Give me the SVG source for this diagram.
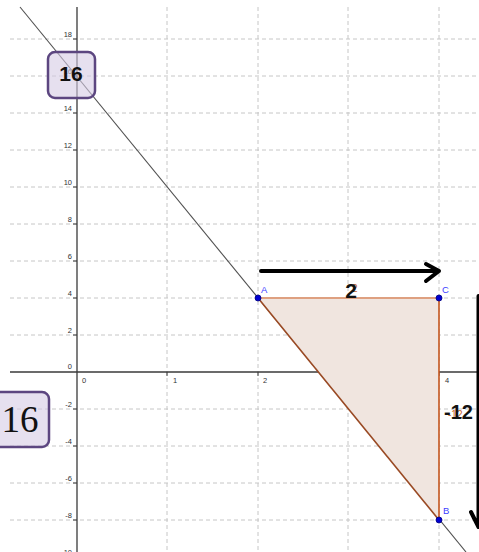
<svg xmlns="http://www.w3.org/2000/svg" width="479" height="552" viewBox="0 0 479 552">
<style>
.grid{stroke:#c6c6c6;stroke-width:1;stroke-dasharray:4 3;fill:none}
.axis{stroke:#3a3a3a;stroke-width:1.3;fill:none}
.tick{stroke:#3a3a3a;stroke-width:1}
.tl{font-family:"Liberation Sans",Arial,sans-serif;font-size:7.5px;fill:#333}
.ptl{font-family:"Liberation Sans",Arial,sans-serif;font-size:9.5px;fill:#3c3cff}
.seg{font-family:"Liberation Sans",Arial,sans-serif;font-size:10px;fill:#c8602a}
.big{font-family:"Liberation Sans",Arial,sans-serif;font-weight:bold;fill:#111}
.pt{fill:#0000d0;stroke:#000080;stroke-width:0.8}
.arrow{stroke:#000;stroke-width:4;fill:none;stroke-linecap:round;stroke-linejoin:round}
.box{fill:#d6cce4;fill-opacity:0.6;stroke:#5c4680;stroke-width:2.5}
</style>
<rect width="479" height="552" fill="#ffffff"/>
<g id="grid">
<line class="grid" x1="167" y1="7" x2="167" y2="552"/>
<line class="grid" x1="258" y1="7" x2="258" y2="552"/>
<line class="grid" x1="348" y1="7" x2="348" y2="552"/>
<line class="grid" x1="439" y1="7" x2="439" y2="552"/>
<line class="grid" x1="10" y1="39" x2="479" y2="39"/>
<line class="grid" x1="10" y1="76" x2="479" y2="76"/>
<line class="grid" x1="10" y1="113" x2="479" y2="113"/>
<line class="grid" x1="10" y1="150" x2="479" y2="150"/>
<line class="grid" x1="10" y1="187" x2="479" y2="187"/>
<line class="grid" x1="10" y1="224" x2="479" y2="224"/>
<line class="grid" x1="10" y1="261" x2="479" y2="261"/>
<line class="grid" x1="10" y1="298" x2="479" y2="298"/>
<line class="grid" x1="10" y1="335" x2="479" y2="335"/>
<line class="grid" x1="10" y1="409" x2="479" y2="409"/>
<line class="grid" x1="10" y1="446" x2="479" y2="446"/>
<line class="grid" x1="10" y1="483" x2="479" y2="483"/>
<line class="grid" x1="10" y1="520" x2="479" y2="520"/>
</g>
<g id="axes">
<line class="axis" x1="77" y1="7" x2="77" y2="552"/>
<line class="axis" x1="10" y1="372" x2="479" y2="372"/>
<g class="tick">
<line x1="73" y1="39" x2="77" y2="39"/><line x1="73" y1="76" x2="77" y2="76"/><line x1="73" y1="113" x2="77" y2="113"/>
<line x1="73" y1="150" x2="77" y2="150"/><line x1="73" y1="187" x2="77" y2="187"/><line x1="73" y1="224" x2="77" y2="224"/>
<line x1="73" y1="261" x2="77" y2="261"/><line x1="73" y1="298" x2="77" y2="298"/><line x1="73" y1="335" x2="77" y2="335"/>
<line x1="73" y1="409" x2="77" y2="409"/><line x1="73" y1="446" x2="77" y2="446"/><line x1="73" y1="483" x2="77" y2="483"/>
<line x1="73" y1="520" x2="77" y2="520"/>
<line x1="167" y1="372" x2="167" y2="376"/><line x1="258" y1="372" x2="258" y2="376"/>
<line x1="348" y1="372" x2="348" y2="376"/><line x1="439" y1="372" x2="439" y2="376"/>
</g>
<g class="tl" text-anchor="end">
<text x="72" y="37">18</text><text x="72" y="74">16</text><text x="72" y="111">14</text>
<text x="72" y="148">12</text><text x="72" y="185">10</text><text x="72" y="222">8</text>
<text x="72" y="259">6</text><text x="72" y="296">4</text><text x="72" y="333">2</text>
<text x="72" y="369">0</text><text x="72" y="407">-2</text><text x="72" y="444">-4</text>
<text x="72" y="481">-6</text><text x="72" y="518">-8</text><text x="72" y="555">-10</text>
</g>
<g class="tl">
<text x="82" y="383">0</text><text x="173" y="383">1</text><text x="263" y="383">2</text>
<text x="354" y="383">3</text><text x="445" y="383">4</text>
</g>
</g>
<g id="line">
<line x1="20" y1="7" x2="466" y2="552" stroke="#505050" stroke-width="1.1"/>
</g>
<g id="triangle">
<polygon points="258,298 439,298 439,520" fill="#f0e5df"/>
<line x1="258" y1="298" x2="439" y2="298" stroke="#dea080" stroke-width="2.2"/>
<line x1="439" y1="298" x2="439" y2="520" stroke="#c4561f" stroke-width="1.6"/>
<line x1="258" y1="298" x2="439" y2="520" stroke="#9a4a24" stroke-width="1.6"/>
<text class="seg" x="352" y="292">2</text>
<text class="seg" x="448" y="418" font-size="9px">-12</text>
</g>
<g id="point-A">
<circle class="pt" cx="258" cy="298" r="3"/>
<text class="ptl" x="261" y="293">A</text>
</g>
<g id="point-C">
<circle class="pt" cx="439" cy="298" r="3"/>
<text class="ptl" x="442" y="293">C</text>
</g>
<g id="point-B">
<circle class="pt" cx="439" cy="520" r="3"/>
<text class="ptl" x="443" y="514">B</text>
</g>
<g id="connectors">
<path class="arrow" d="M261 271 H439 M426 264 L439 271 L426 281"/>
<path class="arrow" stroke-width="3.2" d="M478.5 296 V527 M471 512 L478.5 527"/>
</g>
<g id="label-2">
<text class="big" x="351" y="298" font-size="21px" text-anchor="middle">2</text>
</g>
<g id="label-minus12">
<text class="big" x="444" y="419" font-size="20px">-12</text>
</g>
<g id="box-16-top">
<rect class="box" x="48" y="52" width="47" height="46" rx="7"/>
<text class="big" x="71" y="81" font-size="21px" text-anchor="middle">16</text>
</g>
<g id="box-16-left">
<rect class="box" x="-8" y="392" width="57" height="55" rx="7" fill="#e6e0ee" fill-opacity="0.75"/>
<text x="20" y="432" font-family="'Liberation Serif','Times New Roman',serif" font-size="37px" fill="#111" text-anchor="middle">16</text>
</g>
</svg>
